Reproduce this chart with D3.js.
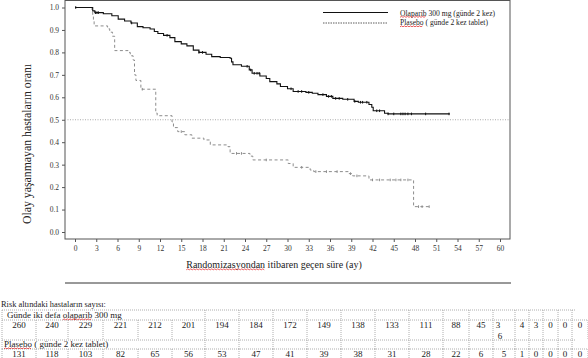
<!DOCTYPE html>
<html><head><meta charset="utf-8">
<script src="https://cdn.jsdelivr.net/npm/d3@7"></script>
<style>body{margin:0;background:#fff}svg{display:block}svg text{font-family:'Liberation Serif','DejaVu Serif',serif !important}</style>
</head><body>
<svg id="c" width="588" height="358" font-family="Liberation Serif"></svg>
<script>
// ---- data ----
const olaparibKM = [[0,1.0],[2.5,0.985],[2.8,0.977],[4.0,0.972],[5.2,0.963],[6.1,0.948],[7.0,0.940],[7.9,0.931],[8.8,0.915],[9.6,0.910],[10.6,0.904],[11.2,0.893],[11.7,0.884],[12.5,0.876],[13.4,0.866],[14.1,0.848],[15.0,0.838],[15.8,0.829],[16.7,0.810],[17.5,0.800],[18.5,0.792],[19.3,0.781],[20.5,0.777],[21.9,0.774],[22.1,0.758],[22.3,0.745],[23.5,0.738],[24.6,0.722],[25.0,0.707],[26.1,0.695],[27.0,0.684],[27.5,0.670],[28.5,0.660],[29.0,0.648],[30.0,0.638],[30.8,0.626],[32.6,0.622],[33.5,0.618],[34.3,0.612],[35.5,0.604],[36.4,0.595],[37.8,0.591],[39.4,0.582],[40.0,0.578],[41.5,0.568],[41.9,0.556],[42.1,0.540],[43.7,0.529],[44.2,0.526],[52.9,0.526]];
const placeboKM = [[0,1.0],[2.4,0.985],[2.5,0.96],[2.6,0.94],[2.7,0.918],[4.6,0.905],[4.9,0.89],[5.3,0.872],[5.6,0.808],[7.5,0.800],[7.8,0.785],[8.2,0.766],[8.4,0.700],[8.6,0.675],[9.3,0.636],[11.4,0.530],[11.6,0.518],[13.7,0.490],[13.9,0.465],[14.5,0.447],[15.5,0.433],[16.5,0.418],[18.2,0.41],[19.1,0.388],[21.6,0.38],[21.9,0.35],[24.7,0.338],[25.1,0.321],[30.1,0.305],[30.8,0.288],[33.2,0.276],[33.7,0.269],[38.6,0.260],[39.2,0.250],[41.5,0.232],[47.8,0.113],[50.1,0.113]];
const olaparibCensor = [0.1,2.9,3.1,3.3,8.0,13.0,17.5,18.0,24.3,24.8,25.3,25.7,26.0,30.5,31.5,32.0,33.0,35.0,35.8,36.2,36.8,37.3,38.5,39.5,40.3,40.6,41.2,42.6,43.0,44.2,45.0,46.0,46.3,46.6,47.0,47.5,49.5,52.8];
const placeboCensor = [9.5,15.0,22.8,23.5,27.0,32.0,34.0,35.5,37.0,38.9,39.8,42.0,43.0,44.5,45.3,46.0,47.0,48.5,49.0,50.0];
const xTicks = [0,3,6,9,12,15,18,21,24,27,30,33,36,39,42,45,48,51,54,57,60];
const yTicks = [0,0.1,0.2,0.3,0.4,0.5,0.6,0.7,0.8,0.9,1.0];
const seriesNames = ["Olaparib 300 mg (günde 2 kez)", "Plasebo ( günde 2 kez tablet)"];
const yTitle = "Olay yaşanmayan hastaların oranı";
const xTitle = "Randomizasyondan itibaren geçen süre (ay)";
const riskTitle = "Risk altındaki hastaların sayısı:";
const riskRowLabels = ["Günde iki defa olaparib 300 mg", "Plasebo ( günde 2 kez tablet)"];
const riskOlaparib = ["260","240","229","221","212","201","194","184","172","149","138","133","111","88","45","3\n6","4","3","0","0","0"];
const riskPlacebo = ["131","118","103","82","65","56","53","47","41","39","38","31","28","22","6","5","1","0","0","0","0"];

// ---- drawing ----
const FONT = "Liberation Serif";
const svg = d3.select("#c");
const x = d3.scaleLinear().domain([0,60]).range([75,500]);
const y = d3.scaleLinear().domain([0,1]).range([232,7.5]);
const L = 65, R = 510, T = 0.5, B = 239;

function squiggle(textSel, word){
  const node = textSel.node();
  const s = node.textContent;
  const i = s.indexOf(word);
  if(i<0) return;
  const start = node.getStartPositionOfChar(i).x;
  const end = node.getEndPositionOfChar(i+word.length-1).x;
  const yy = +textSel.attr("y") + 1.8;
  let d = "M"+start+","+yy;
  let up = true;
  for(let xx=start+1.5; xx<=end; xx+=1.5){ d += "L"+xx+","+(yy+(up?-0.9:0)); up=!up; }
  svg.append("path").attr("d",d).attr("fill","none").attr("stroke","#e02020").attr("stroke-width",0.7);
}

// frame
svg.append("rect").attr("x",L).attr("y",T).attr("width",R-L).attr("height",B-T)
  .attr("fill","none").attr("stroke","#555").attr("stroke-width",1);

// 0.5 reference dotted
svg.append("line").attr("x1",L).attr("x2",R).attr("y1",y(0.5)).attr("y2",y(0.5))
  .attr("stroke","#aaa").attr("stroke-width",1).attr("stroke-dasharray","1,1.5");

// axes
const xa = svg.append("g").attr("transform",`translate(0,${B})`)
  .call(d3.axisBottom(x).tickValues(xTicks).tickSize(3).tickPadding(4).tickFormat(d3.format("d")));
xa.attr("font-family",FONT);
xa.select(".domain").remove();
xa.selectAll("line").attr("stroke","#555");
xa.selectAll("text").attr("font-size",7.5).attr("fill","#333").attr("font-family",FONT);
const ya = svg.append("g").attr("transform",`translate(${L},0)`)
  .call(d3.axisLeft(y).tickValues(yTicks).tickSize(3).tickPadding(3).tickFormat(d3.format(".1f")));
ya.attr("font-family",FONT);
ya.select(".domain").remove();
ya.selectAll("line").attr("stroke","#555");
ya.selectAll("text").attr("font-size",7.5).attr("fill","#333").attr("font-family",FONT);

// curves
const line = d3.line().x(d=>x(d[0])).y(d=>y(d[1])).curve(d3.curveStepAfter);
svg.append("path").datum(placeboKM).attr("d",line).attr("fill","none")
  .attr("stroke","#8c8c8c").attr("stroke-width",1).attr("stroke-dasharray","3,2.5");
svg.append("path").datum(olaparibKM).attr("d",line).attr("fill","none")
  .attr("stroke","#111").attr("stroke-width",1.1);

function survAt(km,t){ let v=km[0][1]; for(const p of km){ if(p[0]<=t) v=p[1]; } return v; }
svg.append("g").selectAll("line").data(olaparibCensor).join("line")
  .attr("x1",d=>x(d)).attr("x2",d=>x(d)).attr("y1",d=>y(survAt(olaparibKM,d))-1.3).attr("y2",d=>y(survAt(olaparibKM,d))+1.3)
  .attr("stroke","#111").attr("stroke-width",1);
svg.append("g").selectAll("line").data(placeboCensor).join("line")
  .attr("x1",d=>x(d)).attr("x2",d=>x(d)).attr("y1",d=>y(survAt(placeboKM,d))-1.3).attr("y2",d=>y(survAt(placeboKM,d))+1.3)
  .attr("stroke","#8c8c8c").attr("stroke-width",1);

function txt(xp, yp, size, s){
  return svg.append("text").attr("x",xp).attr("y",yp).attr("font-size",size).attr("fill","#222")
    .attr("font-family",FONT).text(s);
}

// legend
svg.append("line").attr("x1",323).attr("x2",388).attr("y1",12.5).attr("y2",12.5).attr("stroke","#111").attr("stroke-width",1);
svg.append("line").attr("x1",323).attr("x2",388).attr("y1",23).attr("y2",23).attr("stroke","#333").attr("stroke-width",0.8).attr("stroke-dasharray","1.5,1");
const lg1 = txt(400,15.5,7.6,seriesNames[0]);
const lg2 = txt(400,25,7.6,seriesNames[1]);
squiggle(lg1,"Olaparib"); squiggle(lg2,"Plasebo");

// axis titles
svg.append("text").attr("transform","translate(31,144) rotate(-90)").attr("text-anchor","middle")
  .attr("font-family",FONT).attr("font-size",11.8).attr("fill","#222").text(yTitle);
const xt = txt(274,268,10,xTitle).attr("text-anchor","middle");
squiggle(xt,"Randomizasyondan");
svg.append("line").attr("x1",65).attr("x2",511).attr("y1",283).attr("y2",283).attr("stroke","#333").attr("stroke-width",1);

// risk table
txt(1,307,8.4,riskTitle);
const colB = [2,36,68,103,138,172,205,239,273,307,341,375,409,443,469,493,515,529,543,558,572,588];
const tg = svg.append("g").attr("stroke","#999").attr("stroke-width",0.8).attr("stroke-dasharray","1,1");
[310,320,340,349].forEach(yy=>{
  tg.append("line").attr("x1",2).attr("x2",(yy===310||yy===340)?575:588).attr("y1",yy).attr("y2",yy);
});
colB.forEach((cx,i)=>{
  tg.append("line").attr("x1",cx).attr("x2",cx).attr("y1",320).attr("y2",340);
  tg.append("line").attr("x1",cx).attr("x2",cx).attr("y1",349).attr("y2",358);
  if((i===0 || i>=6) && cx<=572){
    tg.append("line").attr("x1",cx).attr("x2",cx).attr("y1",310).attr("y2",320);
    tg.append("line").attr("x1",cx).attr("x2",cx).attr("y1",340).attr("y2",349);
  }
});
const r1 = txt(7,318,9,riskRowLabels[0]);
const r2 = txt(4,347,9,riskRowLabels[1]);
squiggle(r1,"olaparib"); squiggle(r2,"Plasebo");
function drawRow(vals, baseY){
  vals.forEach((v,i)=>{
    const cx = (colB[i]+colB[i+1])/2;
    const parts = v.split("\n");
    parts.forEach((p,k)=>{
      txt(cx+(parts.length>1?(k===0?-6:-4):0), baseY+k*10.5, 9, p).attr("text-anchor","middle");
    });
  });
}
drawRow(riskOlaparib, 328);
drawRow(riskPlacebo, 356.5);
</script>
</body></html>
